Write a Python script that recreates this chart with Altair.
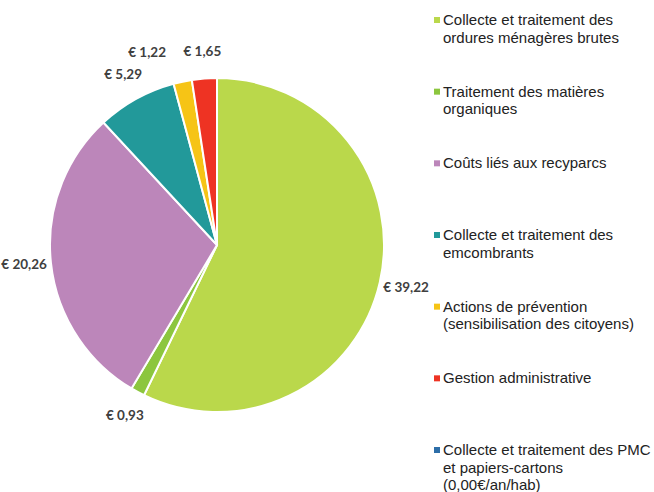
import altair as alt
import pandas as pd

categories = [
    "Collecte et traitement des\nordures ménagères brutes",
    "Traitement des matières\norganiques",
    "Coûts liés aux recyparcs",
    "Collecte et traitement des\nemcombrants",
    "Actions de prévention\n(sensibilisation des citoyens)",
    "Gestion administrative",
    "Collecte et traitement des PMC\net papiers-cartons\n(0,00€/an/hab)",
]
values = [39.22, 0.93, 20.26, 5.29, 1.22, 1.65, 0.0]
colors = ["#BAD84B", "#8CC63E", "#BC86BA", "#22999A", "#F6C416", "#EE3323", "#2D6EA8"]

df = pd.DataFrame({
    "cat": categories,
    "value": values,
    "idx": list(range(len(categories))),
    "label": ["€ " + f"{v:.2f}".replace(".", ",") for v in values],
})

CX, CY, R = 217, 245, 167

base = alt.Chart(df)
color = alt.Color("cat:N", scale=alt.Scale(domain=categories, range=colors), legend=None)
theta = alt.Theta("value:Q", stack=True)
order = alt.Order("idx:Q")

arcs = base.mark_arc(outerRadius=R, x=CX, y=CY, stroke="white", strokeWidth=2).encode(
    theta=theta, color=color, order=order
)

lbl_style = dict(font="Lato", fontSize=13.5, fontWeight="bold", color="#404040", x=CX, y=CY)

labels = base.mark_text(radius=194, **lbl_style).encode(
    theta=theta, order=order,
    text=alt.Text("show:N"),
).transform_calculate(
    show="datum.value > 0 && datum.idx != 4 ? datum.label : ''"
)
labels_small = base.mark_text(radius=194, dx=-30, dy=-2, **lbl_style).encode(
    theta=theta, order=order,
    text=alt.Text("show:N"),
).transform_calculate(
    show="datum.idx == 4 ? datum.label : ''"
)

yenc = alt.Y("cat:N", sort=categories, scale=alt.Scale(range=[20, 450], padding=0), axis=None)

leg_sym = base.mark_square(size=36, x=437, opacity=1).encode(y=yenc, color=color)
leg_txt = base.mark_text(
    x=443, align="left", baseline="middle", lineBreak="\n", font="Liberation Sans",
    fontSize=15, lineHeight=17.5, color="#222222"
).encode(y=yenc, text="cat:N")

chart = alt.layer(arcs, labels, labels_small, leg_sym, leg_txt).properties(
    width=654, height=492, padding=0, autosize="none"
).configure_view(stroke=None)

chart.save("out.html", embed_options={"renderer": "svg", "actions": False})
